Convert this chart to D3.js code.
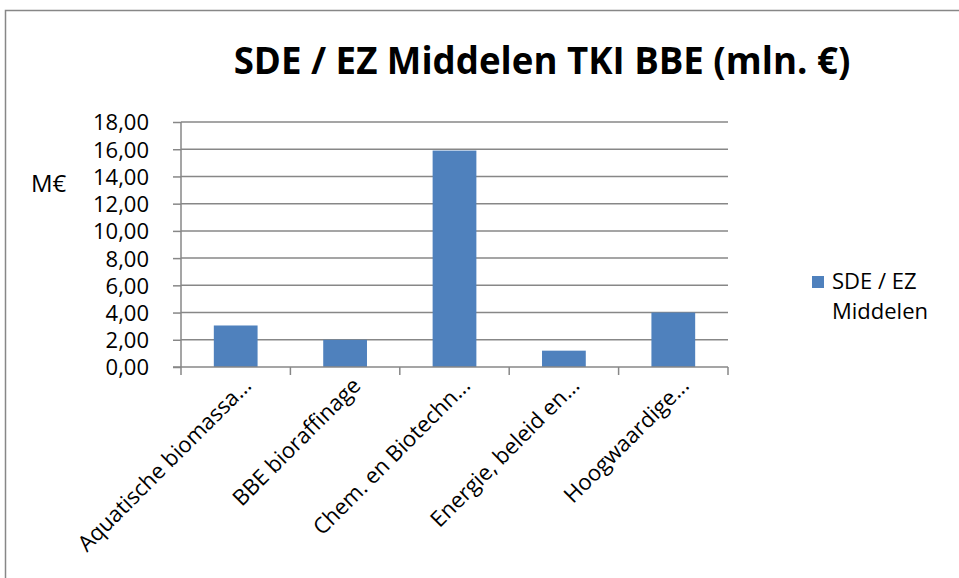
<!DOCTYPE html>
<html>
<head>
<meta charset="utf-8">
<script src="https://cdn.jsdelivr.net/npm/d3@7"></script>
<style>
  body { margin: 0; background: #fff; }
  svg text { font-family: "Open Sans", "Liberation Sans", sans-serif; fill: #000; }
</style>
</head>
<body>
<svg id="chart" width="959" height="578"></svg>
<script>
// data
const categories = [
  "Aquatische biomassa...",
  "BBE bioraffinage",
  "Chem. en Biotechn...",
  "Energie, beleid en...",
  "Hoogwaardige..."
];
const values = [3.05, 2.0, 15.9, 1.2, 4.0];
const yTicks = [0, 2, 4, 6, 8, 10, 12, 14, 16, 18];
const seriesName = ["SDE / EZ", "Middelen"];

const svg = d3.select("#chart");
const grey = "#878787";
const barColor = "#4f81bd";

// chart frame (runs past the right and bottom edge)
svg.append("rect")
  .attr("x", 5.5).attr("y", 10.5)
  .attr("width", 1100).attr("height", 700)
  .attr("fill", "none").attr("stroke", grey).attr("stroke-width", 1.5);

// title, sized to fit its width in the reference
const title = svg.append("text")
  .attr("x", 542).attr("y", 74)
  .attr("text-anchor", "middle")
  .style("font-weight", "bold")
  .style("font-size", "36px")
  .text("SDE / EZ Middelen TKI BBE (mln. €)");
const tw = title.node().getComputedTextLength();
title.style("font-size", (36 * 617 / tw) + "px");

// scales
const plot = { left: 181, right: 728, top: 122, bottom: 367 };

const x = d3.scaleBand()
  .domain(categories)
  .range([plot.left, plot.right])
  .paddingInner(0.6)
  .paddingOuter(0.3);

const y = d3.scaleLinear()
  .domain([0, 18])
  .range([plot.bottom, plot.top]);

// gridlines
svg.append("g")
  .attr("class", "grid")
  .selectAll("line")
  .data(yTicks.filter(d => d > 0))
  .enter()
  .append("line")
  .attr("x1", plot.left).attr("x2", plot.right)
  .attr("y1", d => y(d)).attr("y2", d => y(d))
  .attr("stroke", grey).attr("stroke-width", 1.5);

// bars
svg.append("g")
  .selectAll("rect")
  .data(values)
  .enter()
  .append("rect")
  .attr("x", (d, i) => x(categories[i]))
  .attr("width", x.bandwidth())
  .attr("y", d => y(d))
  .attr("height", d => y(0) - y(d))
  .attr("fill", barColor);

// y axis
const yAxis = svg.append("g")
  .attr("transform", "translate(" + plot.left + ",0)")
  .call(d3.axisLeft(y).tickValues(yTicks).tickSize(8).tickPadding(24)
    .tickFormat(d => d3.format(".2f")(d).replace(".", ",")));
yAxis.selectAll("line, path").attr("stroke", grey).attr("stroke-width", 1.5);
yAxis.select("path").attr("d", "M0," + plot.top + "V" + plot.bottom);
yAxis.selectAll("text")
  .style("font-size", "22px")
  .attr("dy", "0.36em");

// x axis: ticks at category boundaries
const step = x.step();
const bounds = d3.range(categories.length + 1).map(i => plot.left + i * step);
const xAxis = svg.append("g");
xAxis.append("line")
  .attr("x1", plot.left - 8).attr("x2", plot.right)
  .attr("y1", plot.bottom).attr("y2", plot.bottom)
  .attr("stroke", grey).attr("stroke-width", 1.5);
xAxis.selectAll(".tk")
  .data(bounds)
  .enter()
  .append("line")
  .attr("x1", d => d).attr("x2", d => d)
  .attr("y1", plot.bottom).attr("y2", plot.bottom + 8)
  .attr("stroke", grey).attr("stroke-width", 1.5);

// category labels rotated
xAxis.selectAll("text")
  .data(categories)
  .enter()
  .append("text")
  .attr("transform", d => "translate(" + (x(d) + x.bandwidth() / 2 + 17) + "," + (plot.bottom + 20) + ") rotate(-45)")
  .attr("text-anchor", "end")
  .style("font-size", "22px")
  .text(d => d);

// y axis title
svg.append("text")
  .attr("x", 31).attr("y", 192)
  .style("font-size", "24px")
  .text("M€");

// legend
const leg = svg.append("g").attr("class", "legend");
leg.append("rect")
  .attr("x", 812).attr("y", 276)
  .attr("width", 12).attr("height", 12)
  .attr("fill", barColor);
leg.selectAll("text")
  .data(seriesName)
  .enter()
  .append("text")
  .attr("x", 832)
  .attr("y", (d, i) => 289 + i * 30)
  .style("font-size", "22px")
  .text(d => d);
</script>
</body>
</html>
